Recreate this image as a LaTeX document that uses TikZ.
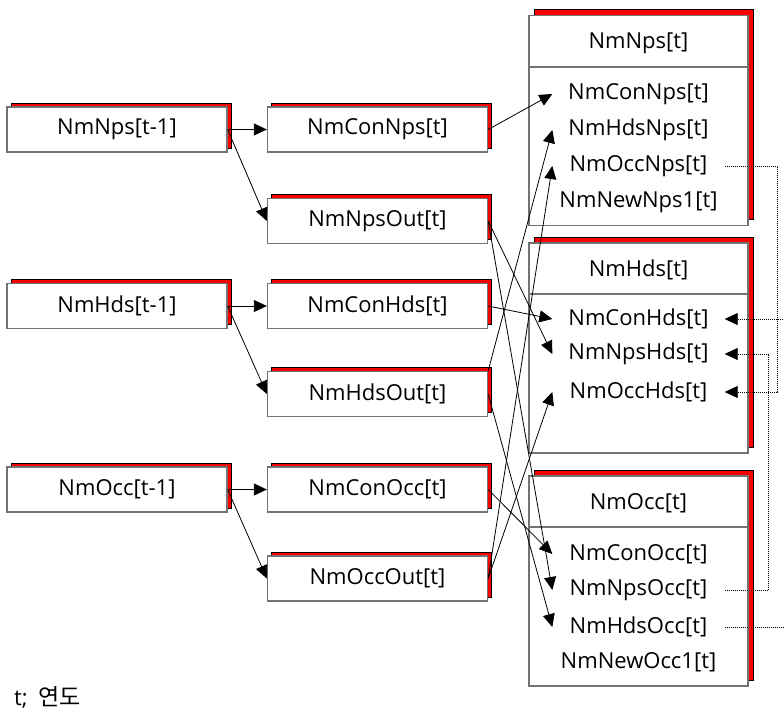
\documentclass[tikz,border=0pt]{standalone}
\usepackage{fontspec}
\setmainfont{Open Sans}
\newfontfamily\krfont{Noto Sans CJK KR}
\usetikzlibrary{arrows.meta,shadows}
\begin{document}
\begin{tikzpicture}[x=1pt,y=-1pt,
  font=\fontsize{22}{26}\selectfont,
  boxline/.style={draw=black!55, line width=1.3pt},
  smallbox/.style={boxline, fill=white, minimum width=220pt, minimum height=45pt, inner sep=0pt,
     general shadow={fill=red, draw=black, line width=0.6pt, shadow xshift=4pt, shadow yshift=4pt}},
  bigbox/.style={boxline, fill=white, minimum width=219pt, minimum height=210pt, inner sep=0pt,
     general shadow={fill=red, draw=black, line width=0.6pt, shadow xshift=5pt, shadow yshift=6pt}},
  itemnode/.style={minimum width=172pt, inner sep=0pt},
  conn/.style={draw=black, line width=0.8pt, -{Triangle[length=13pt,width=12pt]}},
  dotconn/.style={draw=black, line width=0.7pt, dash pattern=on 1pt off 1pt, -{Triangle[length=13pt,width=12pt]}}
]
\useasboundingbox (0,0) rectangle (784,710);
\clip (0,0) rectangle (784,710);

% left and middle columns
\node[smallbox] (nps1) at (117,129.5) {NmNps[t-1]};
\node[smallbox] (conNps) at (377.5,129.5) {NmConNps[t]};
\node[smallbox] (npsOut) at (377.5,221) {NmNpsOut[t]};
\node[smallbox] (hds1) at (117,306) {NmHds[t-1]};
\node[smallbox] (conHds) at (377.5,306) {NmConHds[t]};
\node[smallbox] (hdsOut) at (377.5,394) {NmHdsOut[t]};
\node[smallbox] (occ1) at (117,489.5) {NmOcc[t-1]};
\node[smallbox] (conOcc) at (377.5,489.5) {NmConOcc[t]};
\node[smallbox] (occOut) at (377.5,578.5) {NmOccOut[t]};

% right column boxes
\node[bigbox] (bNps) at (638.5,120.5) {};
\draw[boxline] (529,67) -- (748,67);
\node (tNps) at (638.5,43) {NmNps[t]};
\node[itemnode] (iConNps) at (638.5,94) {NmConNps[t]};
\node[itemnode] (iHdsNps) at (638.5,130) {NmHdsNps[t]};
\node[itemnode] (iOccNps) at (638.5,166) {NmOccNps[t]};
\node[itemnode] (iNewNps) at (638.5,202) {NmNewNps1[t]};

\node[bigbox] (bHds) at (638.5,348) {};
\draw[boxline] (529,294) -- (748,294);
\node (tHds) at (638.5,270) {NmHds[t]};
\node[itemnode] (iConHds) at (638.5,319) {NmConHds[t]};
\node[itemnode] (iNpsHds) at (638.5,354) {NmNpsHds[t]};
\node[itemnode] (iOccHds) at (638.5,392) {NmOccHds[t]};

\node[bigbox] (bOcc) at (638.5,581) {};
\draw[boxline] (529,527) -- (748,527);
\node (tOcc) at (638.5,503) {NmOcc[t]};
\node[itemnode] (iConOcc) at (638.5,554) {NmConOcc[t]};
\node[itemnode] (iNpsOcc) at (638.5,590) {NmNpsOcc[t]};
\node[itemnode] (iHdsOcc) at (638.5,627) {NmHdsOcc[t]};
\node[itemnode] (iNewOcc) at (638.5,662) {NmNewOcc1[t]};

% left -> middle
\draw[conn] (nps1.east) -- (conNps.west);
\draw[conn] (nps1.east) -- (npsOut.west);
\draw[conn] (hds1.east) -- (conHds.west);
\draw[conn] (hds1.east) -- (hdsOut.west);
\draw[conn] (occ1.east) -- (conOcc.west);
\draw[conn] (occ1.east) -- (occOut.west);

% middle -> right
\draw[conn] (conNps.east) -- (iConNps.west);
\draw[conn] (npsOut.east) -- (iNpsHds.west);
\draw[conn] (npsOut.east) -- (iNpsOcc.west);
\draw[conn] (conHds.east) -- (iConHds.west);
\draw[conn] (hdsOut.north east) -- (iHdsNps.west);
\draw[conn] (hdsOut.east) -- (iHdsOcc.west);
\draw[conn] (conOcc.east) -- (iConOcc.west);
\draw[conn] (occOut.east) -- (iOccNps.west);
\draw[conn] (occOut.east) -- (iOccHds.west);

% dotted links on the right
\draw[dotconn] (iOccNps.east) -- ++(53,0) |- (iOccHds.east);
\draw[dotconn] (iNpsOcc.east) -- ++(44,0) |- (iNpsHds.east);
\draw[dotconn] (iHdsOcc.east) -- ++(70,0) |- (iConHds.east);

% legend
\node[anchor=west, inner sep=0pt] (legend) at (14,697) {t;\hspace{11pt}{\krfont\fontsize{23}{26}\selectfont 연도}};
\end{tikzpicture}
\end{document}
